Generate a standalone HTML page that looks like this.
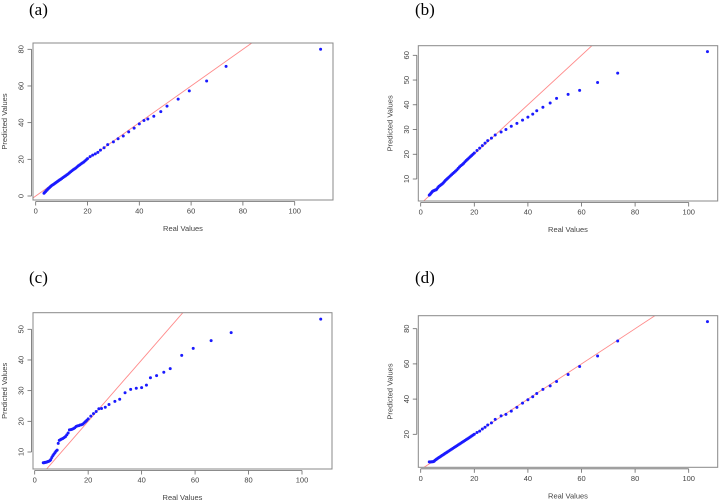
<!DOCTYPE html>
<html><head><meta charset="utf-8"><style>
html,body{margin:0;padding:0;background:#fff;}
svg{display:block;}
</style></head><body>
<svg id="c" width="719" height="502" xmlns="http://www.w3.org/2000/svg"></svg>
<script>
const denseReal=[3.2,3.5,3.8,4.1,4.4,4.7,5,5.3,5.7,6,6.4,6.8,7.2,7.6,8,8.4,8.8,9.2,9.6,10,10.5,11,11.5,12,12.5,13,13.5,14,14.5,15,15.5,16,16.5,17,17.5,18,18.5,19,19.5,20];
const tailRealA=[21,22,23,24,25,26.4,27.8,30,31.8,33.8,35.9,38,40,41.8,43.3,45.6,48.3,50.7,55,59.3,66,73.5,110];
const tailReal=[21,22,23,24,25,26.4,27.8,30,31.8,33.8,35.9,38,40,41.8,43.3,45.6,48.3,50.7,55,59.3,66,73.5,107];
const predA=[1.5,2,2.4,2.9,3.3,3.8,4.2,4.6,5.1,5.5,5.9,6.3,6.7,7.1,7.5,7.9,8.3,8.7,9.1,9.5,10,10.5,11,11.5,12,12.6,13.2,13.8,14.3,14.8,15.3,15.9,16.5,17,17.5,18,18.5,19.1,19.7,20.4,
21.5,22.3,23,23.8,25,26.3,28,29.5,31.2,32.7,35,37,39.3,41.2,42,43.5,46,49,52.8,57.3,62.7,70.7,80];
const predB=[3.5,3.8,4.2,4.6,5,5.2,5.3,5.5,5.6,5.9,6.5,7,7.3,7.7,8,8.4,8.9,9.4,9.8,10.2,10.7,11.2,11.7,12.2,12.7,13.2,13.7,14.3,14.9,15.4,15.8,16.3,16.9,17.5,18,18.5,19,19.5,20,20.5,
21.5,22.5,23.5,24.5,25.5,26.5,27.8,29,30,31.3,32.5,33.8,35,36.2,37.6,39,40.7,42.6,44.2,45.8,49,52.8,61.5];
const predC=[6.5,6.5,6.6,6.6,6.7,6.8,6.9,7,7.2,7.5,8.2,8.8,9.3,9.8,10.3,10.6,12.8,13.8,14,14.2,14.4,14.7,15,15.6,16.2,17.2,17.3,17.4,17.6,17.9,18.3,18.5,18.6,18.8,18.9,19.1,19.5,19.9,20.3,20.8,
21.7,22.5,23.2,24.1,24.2,24.6,25.5,26.5,27.2,29.3,30.4,30.8,31,31.8,34.2,34.9,36,37.2,41.5,43.8,46.3,48.9,53.3];
const predD=[4.3,4.3,4.3,4.4,4.4,4.5,4.7,5.2,5.6,6,6.4,6.8,7.2,7.6,8,8.4,8.8,9.2,9.6,10,10.5,11,11.5,12,12.5,13,13.5,14,14.5,15,15.5,16,16.5,17,17.5,18,18.5,19,19.5,20,
21,21.8,23,24,25.3,26.5,28.5,30.5,31.3,33.2,35.3,37.7,39.6,41.3,43.2,45.5,47.5,50,54,58.5,64.5,73,84];
const xTicks=[0,20,40,60,80,100];
const yTicksA=[0,20,40,60,80];
const yTicksB=[10,20,30,40,50,60];
const yTicksC=[10,20,30,40,50];
const yTicksD=[20,40,60,80];
const NS="http://www.w3.org/2000/svg";
const svg=document.getElementById('c');
function mk(tag,attrs,parent){const e=document.createElementNS(NS,tag);for(const k in attrs)e.setAttribute(k,attrs[k]);(parent||svg).appendChild(e);return e;}
const panels=[
 {id:'a',label:'(a)',lx:29,ly:15,box:[33,43,333,200],x0:35.7,x100:294.7,yv:[0,80],yp:[196,49.3],real:denseReal.concat(tailRealA),pred:predA,yt:yTicksA},
 {id:'b',label:'(b)',lx:415,ly:15,box:[418.3,45.7,717.7,201],x0:420.7,x100:688.7,yv:[10,60],yp:[179,55.3],real:denseReal.concat(tailReal),pred:predB,yt:yTicksB},
 {id:'c',label:'(c)',lx:29,ly:283,box:[33,312.7,332,469],x0:34.7,x100:302,yv:[10,50],yp:[452,329.3],real:denseReal.concat(tailReal),pred:predC,yt:yTicksC},
 {id:'d',label:'(d)',lx:415,ly:283,box:[418.3,315.7,717.7,467.3],x0:420.7,x100:688.7,yv:[20,80],yp:[434.3,328.7],real:denseReal.concat(tailReal),pred:predD,yt:yTicksD}
];
panels.forEach(p=>{
 const g=mk('g',{});
 
 
 const sx=v=>p.x0+(p.x100-p.x0)*v/100;
 const sy=v=>p.yp[0]+(p.yp[1]-p.yp[0])*(v-p.yv[0])/(p.yv[1]-p.yv[0]);
 const [bx0,by0,bx1,by1]=p.box;
 const t=mk('text',{x:p.lx,y:p.ly,'font-family':'Liberation Serif, serif','font-size':17,fill:'#000'},g);
 t.textContent=p.label;
 
 
 const cid='clip'+p.id;
 const cp=mk('clipPath',{id:cid},g);
 mk('rect',{x:bx0,y:by0,width:bx1-bx0,height:by1-by0},cp);
 // y = x reference line
 const vmin=(sy.inv=null,-10), vmax=200;
 const ln=mk('line',{x1:sx(vmin),y1:sy(vmin),x2:sx(vmax),y2:sy(vmax),stroke:'#ff8a8a','stroke-width':0.9,'clip-path':'url(#'+cid+')'},g);
 
 
 p.real.forEach((r,i)=>{
  const c=mk('circle',{cx:sx(r),cy:sy(p.pred[i]),r:1.5,fill:'#1a1aff'},g);
  
  
 });
 const b=mk('rect',{x:bx0,y:by0,width:bx1-bx0,height:by1-by0,fill:'none',stroke:'#888','stroke-width':1},g);
 
 
 // x axis
 const ay=by1+1.5;
 mk('line',{x1:sx(xTicks[0]),y1:ay,x2:sx(xTicks[xTicks.length-1]),y2:ay,stroke:'#666','stroke-width':0.8},g);
 xTicks.forEach(v=>{
  mk('line',{x1:sx(v),y1:ay,x2:sx(v),y2:ay+4,stroke:'#666','stroke-width':0.8},g);
  const tl=mk('text',{x:sx(v),y:ay+12,'text-anchor':'middle','font-family':'Liberation Sans, sans-serif','font-size':7.5,fill:'#444'},g);
  tl.textContent=v;
  
  
 });
 const xl=mk('text',{x:(bx0+bx1)/2,y:by1+31,'text-anchor':'middle','font-family':'Liberation Sans, sans-serif','font-size':7.5,fill:'#444'},g);
 xl.textContent='Real Values';
 
 
 // y axis
 const ax=bx0-1.5;
 mk('line',{x1:ax,y1:sy(p.yt[0]),x2:ax,y2:sy(p.yt[p.yt.length-1]),stroke:'#666','stroke-width':0.8},g);
 p.yt.forEach(v=>{
  mk('line',{x1:ax,y1:sy(v),x2:ax-4,y2:sy(v),stroke:'#666','stroke-width':0.8},g);
  const tl=mk('text',{x:ax-8,y:sy(v),'text-anchor':'middle','font-family':'Liberation Sans, sans-serif','font-size':7.5,fill:'#444',transform:'rotate(-90 '+(ax-8)+' '+sy(v)+')'},g);
  tl.textContent=v;
  
  
 });
 const yc=(by0+by1)/2, yx=bx0-26;
 const yl=mk('text',{x:yx,y:yc,'text-anchor':'middle','font-family':'Liberation Sans, sans-serif','font-size':7.5,fill:'#444',transform:'rotate(-90 '+yx+' '+yc+')'},g);
 yl.textContent='Predicted Values';
 
 
});
</script>
</body></html>
